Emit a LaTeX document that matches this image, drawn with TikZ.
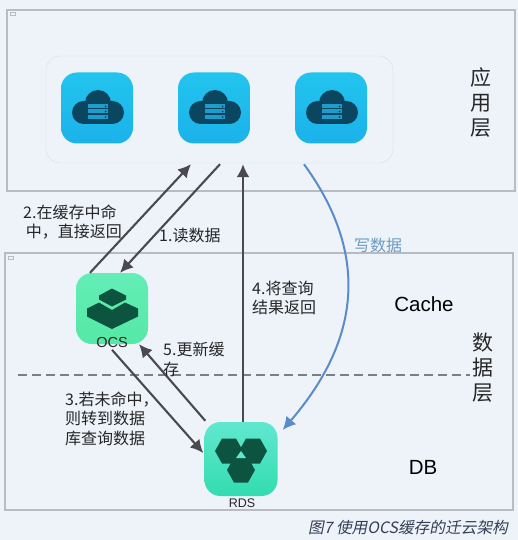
\documentclass[tikz,border=0pt]{standalone}
\usepackage{fontspec}
\setmainfont{Liberation Sans}
\newfontfamily\cjk{Noto Sans CJK SC}
\newfontfamily\cjkslant[FakeSlant=0.2]{Noto Sans CJK SC}
\usetikzlibrary{arrows.meta,calc}
\definecolor{paper}{HTML}{EEF3FA}
\definecolor{frameline}{HTML}{B8BCC2}
\definecolor{groupline}{HTML}{D8DDE5}
\definecolor{flowdark}{HTML}{4A4A4E}
\definecolor{flowblue}{HTML}{5B8BC8}
\definecolor{writeblue}{HTML}{6E9CC0}
\definecolor{dashgray}{HTML}{7A7F85}
\definecolor{cloudnavy}{HTML}{0B4660}
\definecolor{cloudbar}{HTML}{1E9CCB}
\definecolor{deepgreen}{HTML}{0D5440}
\definecolor{apptop}{HTML}{22C4EE}
\definecolor{appbot}{HTML}{1BB2EA}
\definecolor{ocstop}{HTML}{64EEB6}
\definecolor{ocsbot}{HTML}{55E8A6}
\definecolor{rdstop}{HTML}{60E8CE}
\definecolor{rdsbot}{HTML}{33DCB0}
\definecolor{captionink}{HTML}{333D55}
\tikzset{
  layer/.style={draw=frameline,line width=2pt},
  tag/.style={draw=frameline,fill=paper,line width=0.8pt},
  icon/.style={rounded corners=16pt,minimum width=72pt,minimum height=71pt,inner sep=0pt},
  flow/.style={-{Latex[length=13pt,width=13pt]},flowdark,line width=2.1pt},
  zh/.style={font=\cjk\fontsize{16}{19.5}\selectfont,align=left,anchor=west,text=black!85,inner sep=0pt},
  side/.style={font=\cjk\fontsize{21}{25}\selectfont,align=center,text=black!85,inner sep=0pt},
  en/.style={font=\fontsize{20.5}{24}\selectfont,text=black,inner sep=0pt},
  cloud/.pic={
    \fill[cloudnavy] (1,-5) circle (13);
    \fill[cloudnavy,rounded corners=11.5pt] (-25,-7) rectangle (27,16);
    \foreach \y in {-3.5,1.5,7}{
      \fill[cloudbar] (-9,\y) rectangle (11,\y+4);
      \fill[cloudnavy] (8.5,\y+2) circle (1);
    }
  },
  layers/.pic={
    \fill[deepgreen] (-13,-13) -- (0,-20) -- (14,-13) -- (14,-9) -- (0,-2) -- (-13,-9) -- cycle;
    \fill[deepgreen] (-25,0) -- (-13,-6) -- (0,1.5) -- (13,-6) -- (26,0) -- (26,8) -- (0,20.5) -- (-25,8) -- cycle;
  },
  hexes/.pic={
    \foreach \x/\y in {-12/-8,12/-8,0/11}
      \fill[deepgreen,shift={(\x,\y)}] (-14,0) -- (-7,-12.5) -- (7,-12.5) -- (14,0) -- (7,12.5) -- (-7,12.5) -- cycle;
    \fill[rdstop] (0,-8) -- (-5,-1) -- (5,-1) -- cycle;
  },
}
\begin{document}
\begin{tikzpicture}[x=1pt,y=-1pt,>=Latex]
  \useasboundingbox[fill=paper] (0,0) rectangle (518,540);
  \draw[layer] (7,10) rectangle (515,191);
  \draw[layer] (5,253) rectangle (513,510);
  \draw[tag] (10.5,12.5) rectangle (15.5,15);
  \draw[tag] (8.5,256) rectangle (13.5,259);
  \node[draw=groupline,rounded corners=14pt,minimum width=347pt,minimum height=107pt,inner sep=0pt] (group) at (219.5,109.5) {};
  % three app servers
  \foreach \nm/\x in {appa/97,appb/214,appc/331}{
    \node[icon,top color=apptop,bottom color=appbot] (\nm) at (\x,108) {};
    \pic at (\x,108) {cloud};
  }
  \node[icon,top color=ocstop,bottom color=ocsbot] (ocs) at (112,308.5) {};
  \pic at (112,308.5) {layers};
  \node[icon,top color=rdstop,bottom color=rdsbot,minimum width=73pt,minimum height=74pt] (rds) at (241,459) {};
  \pic at (241,459) {hexes};
  \node[font=\fontsize{14.5}{16}\selectfont,text=black!85,inner sep=0pt] (ocstext) at (112,342.5) {OCS};
  \node[font=\fontsize{12.5}{14}\selectfont,text=black!85,inner sep=0pt] (rdstext) at (242,503) {RDS};
  \draw[dashgray,line width=2pt,dash pattern=on 9pt off 5pt] (18,375) -- (470,375);
  % read and write paths
  \draw[flow] ($(ocs.north)+(-22,0)$) -- ($(group.south)+(-28.5,1)$);
  \draw[flow] ($(group.south)+(0.5,1)$) -- ($(ocs.north)+(8,0)$);
  \draw[flow] ($(rds.north)+(2,0)$) -- ($(group.south)+(23.5,1)$);
  \draw[flow] ($(ocstext.south)+(0,2)$) -- ($(rds.west)+(-1,-6)$);
  \draw[flow] ($(rds.north west)+(1,-1)$) -- ($(ocs.south)+(27,0)$);
  \draw[-{Latex[length=13pt,width=13pt]},flowblue,line width=2pt] ($(group.south)+(84.5,1)$)
    .. controls (370,255) and (360,340) .. ($(rds.east)+(5,-29)$);
  \node[zh] (hit) at (23,222) {2.在缓存中命\\\,中，直接返回};
  \node[zh] (read) at (159,235) {1.读数据};
  \node[zh,text=writeblue] (write) at (354,245) {写数据};
  \node[zh] (back) at (252,298) {4.将查询\\结果返回};
  \node[zh] (update) at (163,359.5) {5.更新缓\\存};
  \node[zh] (miss) at (65,418.5) {3.若未命中，\\则转到数据\\库查询数据};
  \node[side] (applayer) at (481,103) {应\\用\\层};
  \node[side] (datalayer) at (483,368) {数\\据\\层};
  \node[en] (cache) at (424,304) {Cache};
  \node[en] (db) at (423,467) {DB};
  \node[font=\cjkslant\fontsize{15.7}{18}\selectfont,text=captionink,inner sep=0pt] (caption) at (408,528) {图7 使用OCS缓存的迁云架构};
\end{tikzpicture}
\end{document}
